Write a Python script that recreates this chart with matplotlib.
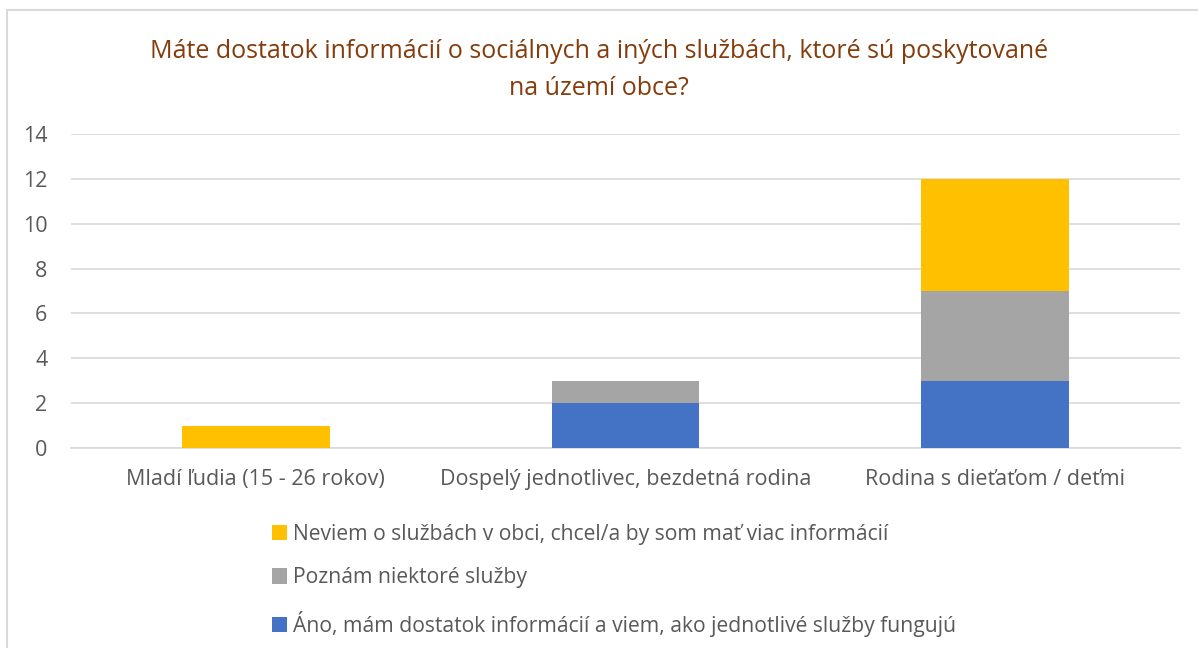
import matplotlib
matplotlib.use("Agg")
import matplotlib.pyplot as plt
from matplotlib.patches import Rectangle
import numpy as np

categories = ["Mladí ľudia (15 - 26 rokov)", "Dospelý jednotlivec, bezdetná rodina", "Rodina s dieťaťom / deťmi"]
ano = [0, 2, 3]
poznam = [0, 1, 4]
neviem = [1, 0, 5]
series_labels = [
    "Neviem o službách v obci, chcel/a by som mať viac informácií",
    "Poznám niektoré služby",
    "Áno, mám dostatok informácií a viem, ako jednotlivé služby fungujú",
]
yticks = [0, 2, 4, 6, 8, 10, 12, 14]
title = "Máte dostatok informácií o sociálnych a iných službách, ktoré sú poskytované\nna území obce?"

c_yellow = "#FFC000"
c_gray = "#A5A5A5"
c_blue = "#4472C4"
txt = "#595959"

plt.rcParams['font.family'] = ['Open Sans', 'DejaVu Sans']

W, H = 1198, 648
fig = plt.figure(figsize=(W / 100, H / 100), dpi=100)
fig.patches.append(Rectangle((7 / W, -0.1), 1.2, (H - 10) / H + 0.1, transform=fig.transFigure,
                             fill=False, edgecolor="#D9D9D9", linewidth=1.5))

ax = fig.add_axes([71 / W, (H - 448) / H, (1180 - 71) / W, (448 - 134) / H])
x = np.arange(len(categories))
a = np.array(ano); p = np.array(poznam); n = np.array(neviem)
ax.bar(x, a, 0.4, color=c_blue, label=series_labels[2], zorder=3)
ax.bar(x, p, 0.4, bottom=a, color=c_gray, label=series_labels[1], zorder=3)
ax.bar(x, n, 0.4, bottom=a + p, color=c_yellow, label=series_labels[0], zorder=3)

ax.set_xlim(-0.5, len(categories) - 0.5)
ax.set_ylim(0, 14)
ax.set_yticks(yticks)
ax.set_yticklabels([str(v) for v in yticks])
ax.set_xticks(x)
ax.set_xticklabels(categories)
ax.grid(axis="y", color="#D9D9D9", linewidth=1.2, zorder=0)
for s in ["top", "right", "left"]:
    ax.spines[s].set_visible(False)
ax.spines["bottom"].set_color("#D9D9D9")
ax.spines["bottom"].set_linewidth(1.2)
ax.tick_params(axis="both", length=0, labelsize=15.5, labelcolor=txt)
ax.tick_params(axis="x", pad=15)
ax.tick_params(axis="y", pad=17)

fig.text(0.5, (H - 70) / H, title, ha="center", va="center", fontsize=18, color="#843C0C",
         linespacing=1.58)

handles, labels = ax.get_legend_handles_labels()
handles = handles[::-1]; labels = labels[::-1]
leg = fig.legend(handles, labels, loc="upper left", bbox_to_anchor=(261 / W, (H - 513) / H),
                 frameon=False, fontsize=15.2, labelcolor=txt, handlelength=0.72, handleheight=0.72,
                 handletextpad=0.28, labelspacing=1.08, borderpad=0)

fig.savefig("out.png", dpi=100)
